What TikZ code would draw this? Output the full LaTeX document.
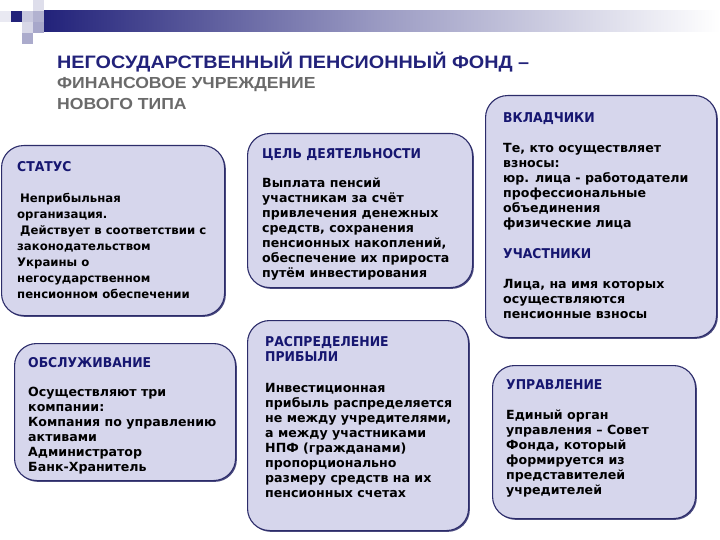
\documentclass[tikz,border=0pt]{standalone}
\usepackage{fontspec}
\setmainfont{DejaVu Sans}
\newfontfamily\titlefont{Liberation Sans}[FakeStretch=1.1]
\newfontfamily\hdrfont{DejaVu Sans}[FakeStretch=0.92]
\usetikzlibrary{shadows}
\newcommand{\fl}{\rule{0pt}{20pt}}
\definecolor{navy}{HTML}{22227A}
\definecolor{hdrblue}{HTML}{161670}
\definecolor{cardfill}{HTML}{D6D6EC}
\definecolor{cardline}{HTML}{2C2C6A}
\definecolor{titlegray}{HTML}{6A6A6A}
\tikzset{
  card/.style={draw=cardline, line width=1.1pt, fill=cardfill, rounded corners=22pt,
    inner sep=0pt, anchor=north west,
    drop shadow={shadow xshift=1.3pt, shadow yshift=-1.3pt, fill=cardline, opacity=0.85}},
  txt/.style={anchor=north west, inner sep=0pt, align=left, yshift=20pt},
  hdr/.style={txt, text=hdrblue,
    font=\hdrfont\bfseries\fontsize{13.5}{15}\selectfont},
  body/.style={txt, font=\bfseries\fontsize{12.6}{15}\selectfont},
  sq/.style={draw=none, inner sep=0pt, minimum size=11pt, anchor=north west},
}
\begin{document}
\begin{tikzpicture}[x=1pt,y=-1pt]
\useasboundingbox (0,0) rectangle (720,540);
% header decoration
\shade[left color=navy, right color=white, middle color=navy!45!white] (44,11) rectangle (720,32);
\node[sq, fill=navy!10] (s1) at (0,11) {};
\node[sq, fill=navy] (s2) at (11,11) {};
\node[sq, fill=navy!25] (s3) at (22,11) {};
\node[sq, fill=navy!15] (s4) at (33,0) {};
\node[sq, fill=navy!35] (s5) at (33,11) {};
\node[sq, fill=navy!18] (s6) at (22,22) {};
\node[sq, fill=navy!40] (s7) at (33,22) {};
\node[sq, fill=navy!38] (s8) at (22,33) {};
% title
\node[txt, text=navy, font=\titlefont\bfseries\fontsize{18}{20}\selectfont] (t1) at (57,68) {\fl НЕГОСУДАРСТВЕННЫЙ ПЕНСИОННЫЙ ФОНД –};
\node[txt, text=titlegray, font=\titlefont\bfseries\fontsize{16}{21}\selectfont] (t2) at (57,88) {\fl ФИНАНСОВОЕ УЧРЕЖДЕНИЕ\\НОВОГО ТИПА};
% cards
\node[card, minimum width=223pt, minimum height=170pt] (status) at (1,145) {};
\node[card, minimum width=225pt, minimum height=154pt] (goal) at (247,133) {};
\node[card, minimum width=231pt, minimum height=242pt] (dep) at (485,95) {};
\node[card, minimum width=221pt, minimum height=137pt] (serv) at (14,343) {};
\node[card, minimum width=221pt, minimum height=210pt] (profit) at (247,320) {};
\node[card, minimum width=203pt, minimum height=153pt] (mgmt) at (492,365) {};
% texts
\node[hdr] (statush) at (17,171) {\fl СТАТУС};
\node[body, font=\bfseries\fontsize{11.7}{16}\selectfont] (statusb) at (17,202) {\fl\hspace{3pt}Неприбыльная\\организация.\\\hspace{3pt}Действует в соответствии с\\законодательством\\Украины о\\негосударственном\\пенсионном обеспечении};
\node[hdr] (goalh) at (262,158) {\fl ЦЕЛЬ ДЕЯТЕЛЬНОСТИ};
\node[body] (goalb) at (262,187) {\fl Выплата пенсий\\участникам за счёт\\привлечения денежных\\средств, сохранения\\пенсионных накоплений,\\обеспечение их прироста\\путём инвестирования};
\node[hdr] (deph) at (503,122) {\fl ВКЛАДЧИКИ};
\node[body] (depb) at (503,152) {\fl Те, кто осуществляет\\взносы:\\юр. лица - работодатели\\профессиональные\\объединения\\физические лица};
\node[hdr] (parth) at (503,258) {\fl УЧАСТНИКИ};
\node[body] (partb) at (503,288) {\fl Лица, на имя которых\\осуществляются\\пенсионные взносы};
\node[hdr] (servh) at (28,367) {\fl ОБСЛУЖИВАНИЕ};
\node[body] (servb) at (28,396) {\fl Осуществляют три\\компании:\\Компания по управлению\\активами\\Администратор\\Банк-Хранитель};
\node[hdr] (profith) at (265,346) {\fl РАСПРЕДЕЛЕНИЕ\\ПРИБЫЛИ};
\node[body] (profitb) at (265,392) {\fl Инвестиционная\\прибыль распределяется\\не между учредителями,\\а между участниками\\НПФ (гражданами)\\пропорционально\\размеру средств на их\\пенсионных счетах};
\node[hdr] (mgmth) at (506,389) {\fl УПРАВЛЕНИЕ};
\node[body] (mgmtb) at (506,419) {\fl Единый орган\\управления – Совет\\Фонда, который\\формируется из\\представителей\\учредителей};
\end{tikzpicture}
\end{document}
